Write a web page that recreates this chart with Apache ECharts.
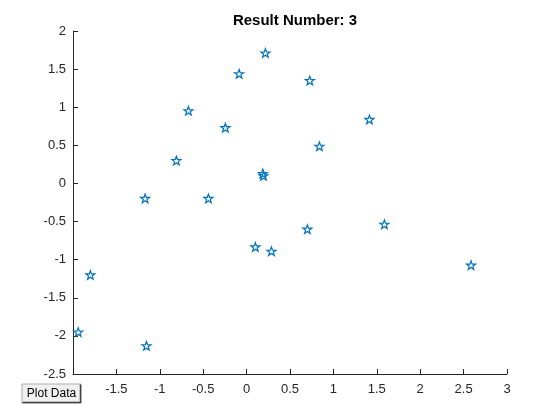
<!DOCTYPE html>
<html>
<head>
<meta charset="utf-8">
<script src="https://cdn.jsdelivr.net/npm/echarts@6/dist/echarts.min.js"></script>
<style>html,body{margin:0;padding:0;background:#fff;}#c{width:560px;height:420px;}</style>
</head>
<body>
<div id="c"></div>
<script>
var titleText = 'Result Number: 3';
var xValues = [-1.94, -1.80, -1.154, -1.169, -0.809, -0.67, -0.44, -0.244, -0.086, 0.217, 0.187, 0.194, 0.101, 0.286, 0.728, 0.839, 1.415, 0.70, 1.588, 2.586];
var yValues = [-1.95, -1.20, -2.13, -0.196, 0.30, 0.954, -0.196, 0.732, 1.438, 1.712, 0.131, 0.10, -0.833, -0.889, 1.35, 0.488, 0.84, -0.60, -0.536, -1.072];
var buttonLabel = 'Plot Data';

var points = xValues.map(function (x, i) { return [x, yValues[i]]; });
var starPath = 'path://M0,-10 L2.35,-3.24 L9.51,-3.09 L3.8,1.24 L5.88,8.09 L0,4 L-5.88,8.09 L-3.8,1.24 L-9.51,-3.09 L-2.35,-3.24 Z';
var font = 'Liberation Sans, Arial, Helvetica, sans-serif';

var chart = echarts.init(document.getElementById('c'));
chart.setOption({
  backgroundColor: '#ffffff',
  animation: false,
  title: {
    text: titleText,
    left: 290, top: 8, textAlign: 'center',
    textStyle: { fontFamily: font, fontSize: 15, fontWeight: 'bold', color: '#000000' }
  },
  grid: { left: 73, right: 53, top: 31, bottom: 46 },
  xAxis: {
    type: 'value', min: -2, max: 3, interval: 0.5,
    axisLine: { show: true, onZero: false, lineStyle: { color: '#262626', width: 1 } },
    axisTick: { show: true, inside: true, length: 5, lineStyle: { color: '#262626' } },
    axisLabel: { showMinLabel: false, fontFamily: font, fontSize: 13, color: '#262626', margin: 9 },
    splitLine: { show: false }
  },
  yAxis: {
    type: 'value', min: -2.5, max: 2, interval: 0.5,
    axisLine: { show: true, onZero: false, lineStyle: { color: '#262626', width: 1 } },
    axisTick: { show: true, inside: true, length: 5, lineStyle: { color: '#262626' } },
    axisLabel: { fontFamily: font, fontSize: 13, color: '#262626', margin: 7 },
    splitLine: { show: false }
  },
  series: [{
    type: 'scatter',
    data: points,
    symbol: starPath,
    symbolKeepAspect: true,
    symbolSize: 9,
    itemStyle: { color: 'rgba(0,0,0,0)', borderColor: '#0072BD', borderWidth: 1.2, opacity: 1 }
  }],
  graphic: [{
    type: 'group', left: 20, top: 382, z: 100,
    children: [
      { type: 'rect', shape: { x: 0, y: 0, width: 59, height: 19 }, style: { fill: '#f0f0f0', stroke: '#adadad', lineWidth: 1 } },
      { type: 'polyline', shape: { points: [[0.5, 18.5], [58.5, 18.5], [58.5, 0.5]] }, style: { stroke: '#404040', lineWidth: 1.5, fill: null } },
      { type: 'text', style: { text: buttonLabel, x: 29.5, y: 10, align: 'center', verticalAlign: 'middle', font: '12px ' + font, fill: '#000000' } }
    ]
  }]
});
</script>
</body>
</html>
